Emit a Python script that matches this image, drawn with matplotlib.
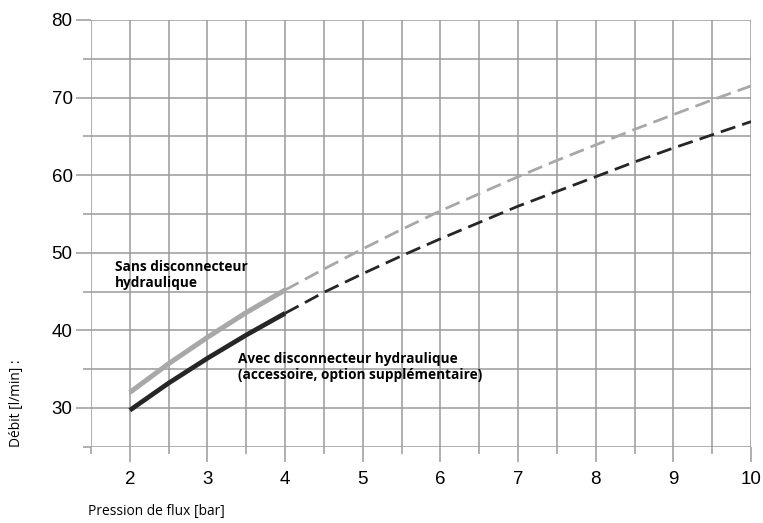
import matplotlib
matplotlib.use("Agg")
import matplotlib.pyplot as plt
from matplotlib.ticker import MultipleLocator

# pression (bar) et debit (l/min)
p_solid = [2.0, 2.5, 3.0, 3.5, 4.0]
p_dash = [4.0, 4.5, 5.0, 5.5, 6.0, 6.5, 7.0, 7.5, 8.0, 8.5, 9.0, 9.5, 10.0]

sans_solid = [32.0, 35.7, 39.1, 42.3, 45.2]
sans_dash = [45.2, 47.9, 50.5, 53.0, 55.4, 57.6, 59.8, 61.9, 63.9, 65.9, 67.8, 69.7, 71.5]

avec_solid = [29.7, 33.2, 36.4, 39.4, 42.2]
avec_dash = [42.2, 44.9, 47.3, 49.6, 51.8, 53.9, 56.0, 57.9, 59.8, 61.7, 63.5, 65.2, 66.9]

label_sans = "Sans disconnecteur\nhydraulique"
label_avec = "Avec disconnecteur hydraulique\n(accessoire, option supplémentaire)"

grid_col = "#9a9a9a"
gris = "#a8a8a8"
noir = "#262626"
txt_font = "Open Sans"

fig = plt.figure(figsize=(7.63, 5.23), dpi=100)
ax = fig.add_axes([91 / 763, 1 - 446.7 / 523, 660 / 763, 426.7 / 523])

ax.set_xlim(1.5, 10)
ax.set_ylim(25, 80)
ax.xaxis.set_major_locator(MultipleLocator(1))
ax.xaxis.set_minor_locator(MultipleLocator(0.5))
ax.yaxis.set_major_locator(MultipleLocator(10))
ax.yaxis.set_minor_locator(MultipleLocator(5))
ax.grid(True, which="both", color=grid_col, lw=1.1)
ax.set_axisbelow(True)
for s in ax.spines.values():
    s.set_visible(False)

# longueurs en points (1 px = 0.72 pt)
ax.tick_params(axis="both", which="both", color=grid_col, width=1.1, labelsize=13.5)
ax.tick_params(axis="y", which="major", length=10.8, pad=2.5)
ax.tick_params(axis="y", which="minor", length=5.8)
ax.tick_params(axis="x", which="major", length=10.8, pad=7)
ax.tick_params(axis="x", which="minor", length=4.8)
ax.set_xticks(range(2, 11))
for lab in ax.get_xticklabels() + ax.get_yticklabels():
    lab.set_fontfamily("Liberation Sans")

ax.plot(p_solid, sans_solid, color=gris, lw=3.6, solid_capstyle="butt")
ax.plot(p_dash, sans_dash, color=gris, lw=2.0, dashes=(5.5, 2.6))
ax.plot(p_solid, avec_solid, color=noir, lw=3.4, solid_capstyle="butt")
ax.plot(p_dash, avec_dash, color=noir, lw=2.0, dashes=(5.5, 2.6))

# va="baseline" -> ligne du bas du texte
ax.text(1.81, 45.6, label_sans, fontsize=9.8, fontweight="bold",
        family=txt_font, va="baseline", linespacing=1.2)
ax.text(3.39, 33.7, label_avec, fontsize=9.8, fontweight="bold",
        family=txt_font, va="baseline", linespacing=1.2)

fig.text(88 / 763, 1 - 512 / 523, "Pression de flux [bar]", fontsize=9.9,
         family=txt_font, va="center", ha="left")
fig.text(17 / 763, 1 - 403 / 523, "Débit [l/min] :", fontsize=9.9,
         family=txt_font, va="center", ha="center", rotation=90)

fig.savefig("out.png", dpi=100)
